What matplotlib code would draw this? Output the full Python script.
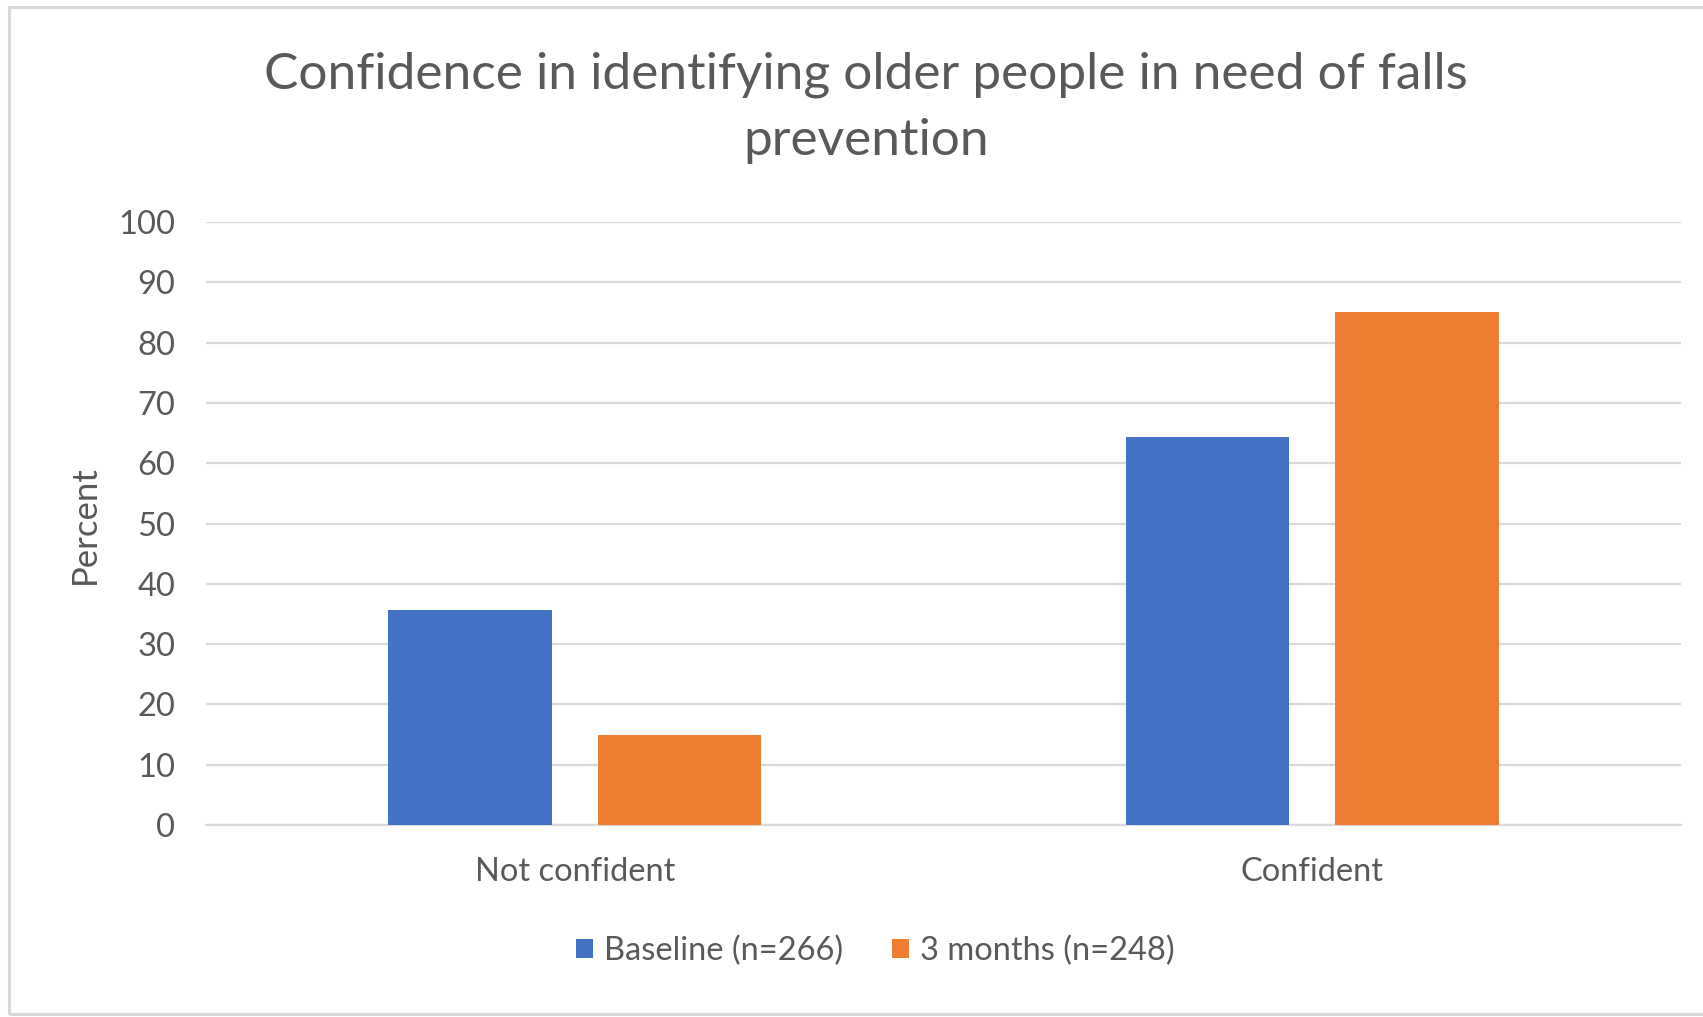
import matplotlib.pyplot as plt
from matplotlib.patches import Rectangle
import numpy as np

categories = ['Not confident', 'Confident']
baseline = [35.7, 64.3]
months3 = [14.9, 85.1]
series_names = ['Baseline (n=266)', '3 months (n=248)']
title = 'Confidence in identifying older people in need of falls\nprevention'

plt.rcParams['font.family'] = ['Lato', 'DejaVu Sans']
text_col = '#595959'
grid_col = '#d9d9d9'
blue = '#4472c4'
orange = '#ed7d31'

W, H = 1703, 1017
fig = plt.figure(figsize=(W / 100, H / 100), dpi=100)
ax = fig.add_axes([206 / W, 1 - 825 / H, (1681 - 206) / W, (825 - 222) / H])

x = np.arange(len(categories))
bw = 0.222
off = 0.142
ax.bar(x - off, baseline, bw, color=blue, label=series_names[0], zorder=3)
ax.bar(x + off, months3, bw, color=orange, label=series_names[1], zorder=3)

ax.set_xlim(-0.5, 1.5)
ax.set_ylim(0, 100)
ax.set_yticks(range(0, 101, 10))
ax.set_xticks(x)
ax.set_xticklabels(categories)
ax.yaxis.grid(True, color=grid_col, linewidth=1.6, zorder=0)
ax.set_axisbelow(True)
for s in ['top', 'right', 'left']:
    ax.spines[s].set_visible(False)
ax.spines['bottom'].set_color(grid_col)
ax.spines['bottom'].set_linewidth(1.6)
ax.tick_params(axis='both', length=0, colors=text_col, labelsize=23.5)
ax.tick_params(axis='y', pad=22)
ax.tick_params(axis='x', pad=23)

fig.text(85 / W, 1 - 525 / H, 'Percent', rotation=90, ha='center', va='center',
         fontsize=25, color=text_col)

fig.text(866 / W, 1 - 108 / H, title, ha='center', va='center',
         fontsize=37, color=text_col, linespacing=1.55)

leg = fig.legend(loc='center', bbox_to_anchor=(875 / W, 1 - 951 / H), ncol=2,
                 frameon=False, fontsize=23.5, handlelength=0.53, handleheight=0.53,
                 handletextpad=0.33, columnspacing=1.5)
for t in leg.get_texts():
    t.set_color(text_col)

# chart border
fig.patches.append(Rectangle((9 / W, 1 - 1014 / H), 1.1, (1014 - 7) / H,
                             transform=fig.transFigure, fill=False,
                             edgecolor=grid_col, linewidth=2.2))

fig.savefig('out.png', dpi=100, facecolor='white')
